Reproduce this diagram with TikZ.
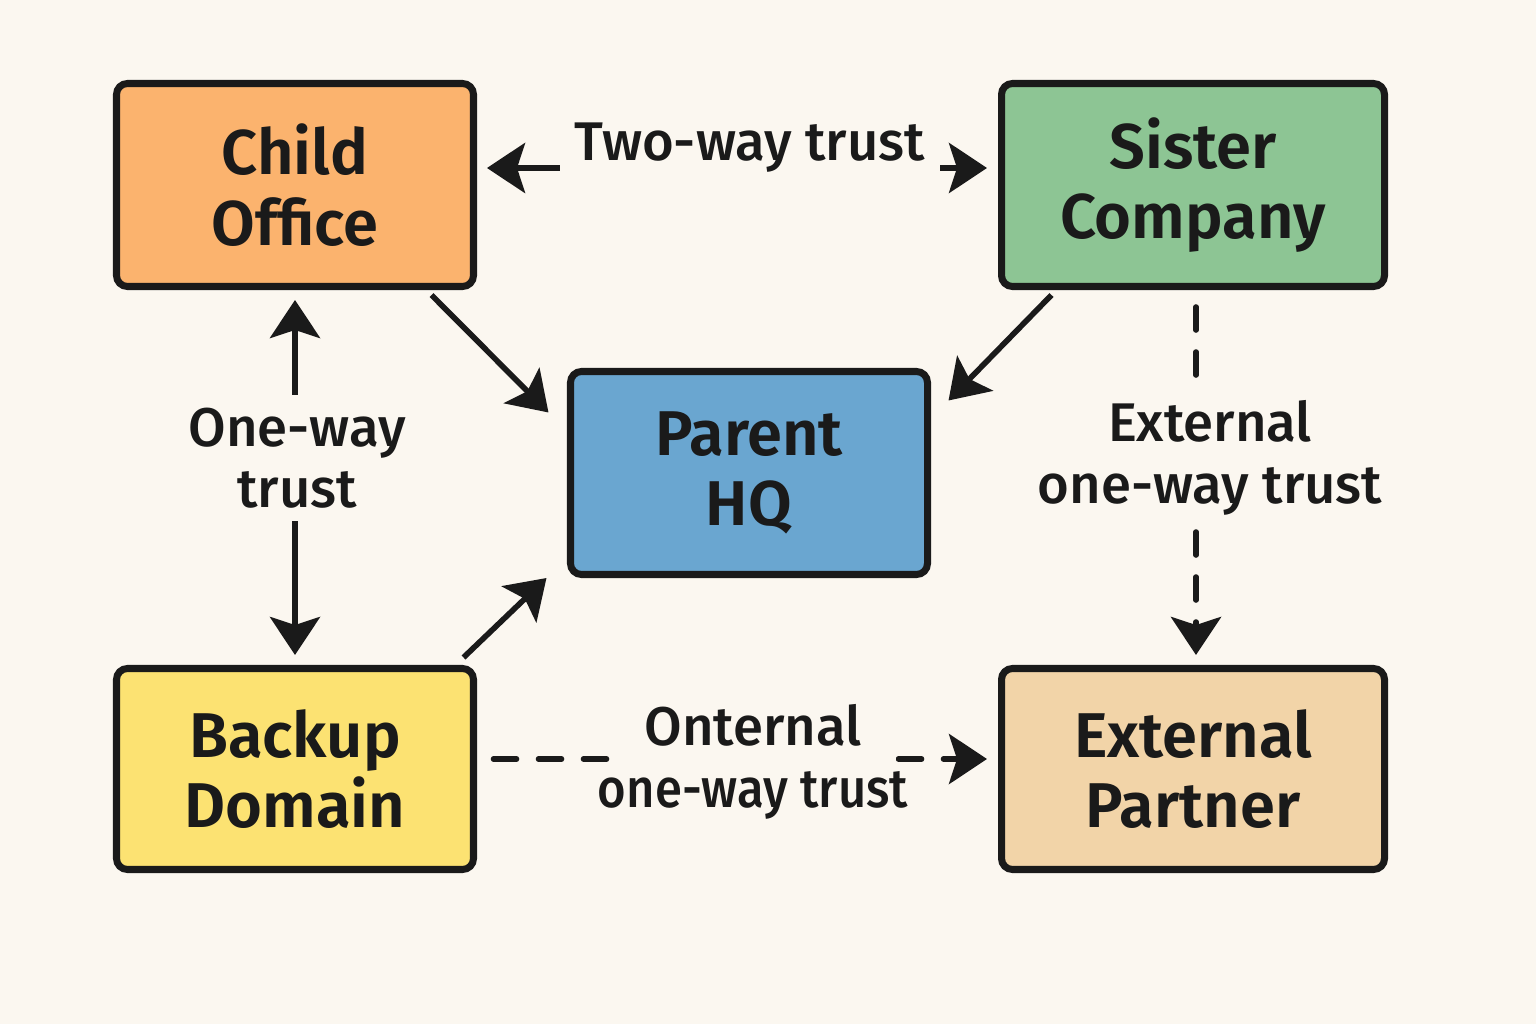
\documentclass[tikz,border=0pt]{standalone}
\usepackage{fontspec}
\setmainfont{Fira Sans}
\newfontfamily\boxfont{Fira Sans SemiBold}
\newfontfamily\trustfont{Fira Sans Medium}
\usetikzlibrary{arrows.meta}
\usetikzlibrary{calc}

\definecolor{bgcol}{HTML}{FBF7F0}
\definecolor{inkcol}{HTML}{1A1A1A}
\definecolor{childcol}{HTML}{FBB36E}
\definecolor{sistercol}{HTML}{8DC594}
\definecolor{parentcol}{HTML}{6AA6D0}
\definecolor{backupcol}{HTML}{FCE272}
\definecolor{partnercol}{HTML}{F2D4A8}

\tikzset{
  domainbox/.style={draw=inkcol, line width=4pt, rounded corners=0.22cm, minimum width=7.14cm, minimum height=4.06cm, align=center, text=inkcol, font=\fontsize{36}{40}\selectfont\boxfont},
  trustlabel/.style={fill=bgcol, inner sep=0pt, align=center, text=inkcol, font=\fontsize{31}{35}\selectfont\trustfont},
  trustarrow/.style={draw=inkcol, line width=3.2pt, -{Stealth[length=0.76cm, width=1.0cm, inset=0.16cm]}},
  dasharrow/.style={trustarrow, line cap=round, dash pattern=on 0.46cm off 0.44cm}
}

\begin{document}
\begin{tikzpicture}

\fill[bgcol] (0, 0) rectangle (30.72, 20.48);
\useasboundingbox (0, 0) rectangle (30.72, 20.48);

\node[domainbox, fill=childcol] (child) at (5.90, 16.78) {Child\\Office};
\node[domainbox, fill=sistercol, minimum width=7.66cm] (sister) at (23.86, 16.78) {Sister\\Company};
\node[domainbox, fill=parentcol] (parent) at (14.98, 11.02) {Parent\\HQ};
\node[domainbox, fill=backupcol, minimum height=4.02cm] (backup) at (5.90, 5.10) {Backup\\Domain};
\node[domainbox, fill=partnercol, minimum width=7.66cm, minimum height=4.02cm] (partner) at (23.86, 5.10) {External\\Partner};

% solid trusts
\draw[trustarrow, {Stealth[length=0.76cm, width=1.0cm, inset=0.16cm]}-{Stealth[length=0.76cm, width=1.0cm, inset=0.16cm]}, shorten <=0.2cm, shorten >=0.22cm] ([yshift=0.34cm]child.east) -- ([yshift=0.34cm]sister.west);
\draw[trustarrow, {Stealth[length=0.76cm, width=1.0cm, inset=0.16cm]}-{Stealth[length=0.76cm, width=1.0cm, inset=0.16cm]}, shorten <=0.2cm, shorten >=0.2cm] (child.south) -- (backup.north);
\draw[trustarrow] ([xshift=-0.91cm, yshift=-0.1cm]child.south east) -- ([xshift=-0.37cm, yshift=-0.89cm]parent.north west);
\draw[trustarrow] ([xshift=1.07cm, yshift=-0.1cm]sister.south west) -- ([xshift=0.35cm, yshift=-0.65cm]parent.north east);
\draw[trustarrow] ([xshift=-0.27cm, yshift=0.15cm]backup.north east) -- ([xshift=-0.41cm]parent.south west);

% external trusts
\draw[dasharrow, shorten <=0.34cm, shorten >=0.2cm] ([xshift=0.06cm]sister.south) -- ([xshift=0.06cm]partner.north);
\draw[dasharrow, shorten <=0.33cm, shorten >=0.22cm] ([yshift=0.2cm]backup.east) -- ([yshift=0.2cm]partner.west);

% labels
\node[trustlabel, inner xsep=0.3cm] (twoway) at (15.0, 17.52) {Two-way trust};
\node[trustlabel, inner ysep=0.25cm] (oneway) at (5.94, 11.32) {One-way\\trust};
\node[trustlabel, inner ysep=0.25cm] (extoneway) at (24.20, 11.32) {External\\one-way trust};
\node[trustlabel, inner xsep=-0.25cm] (onternal) at (15.06, 5.24) {Onternal\\\scalebox{0.9}[1]{one-way trust}};

\end{tikzpicture}
\end{document}
